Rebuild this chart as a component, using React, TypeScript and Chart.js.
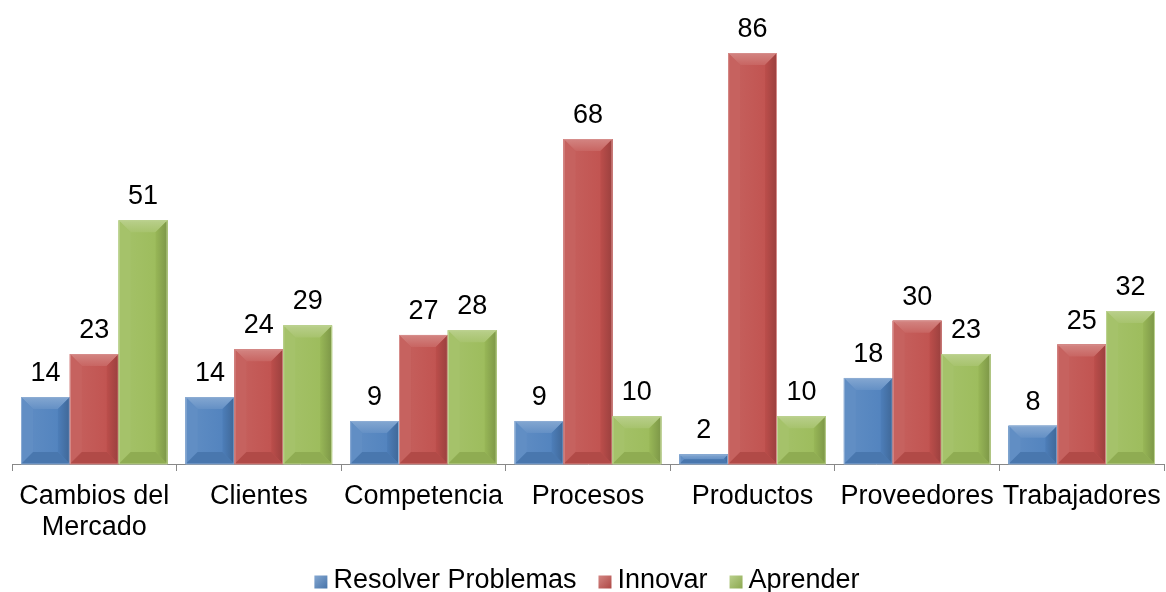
import React, { useEffect, useRef } from "react";
import { Chart, registerables } from "chart.js";

Chart.register(...registerables);

const categories = [["Cambios del", "Mercado"], "Clientes", "Competencia", "Procesos", "Productos", "Proveedores", "Trabajadores"];
const seriesNames = ["Resolver Problemas", "Innovar", "Aprender"];
const resolverValues = [14, 14, 9, 9, 2, 18, 8];
const innovarValues = [23, 24, 27, 68, 86, 30, 25];
const aprenderValues = [51, 29, 28, 10, 10, 23, 32];
const seriesColors = ["#4F81BD", "#C0504D", "#9BBB59"];

const FONT_FAMILY = "'Liberation Sans', Arial, sans-serif";
const FONT_SIZE = 27;

function shade(hex: string, amt: number) {
  const n = parseInt(hex.slice(1), 16);
  let r = (n >> 16) & 255, g = (n >> 8) & 255, b = n & 255;
  if (amt >= 0) {
    r = r + (255 - r) * amt; g = g + (255 - g) * amt; b = b + (255 - b) * amt;
  } else {
    r = r * (1 + amt); g = g * (1 + amt); b = b * (1 + amt);
  }
  return `rgb(${Math.round(r)},${Math.round(g)},${Math.round(b)})`;
}

const bevelPlugin = {
  id: "bevel",
  afterDatasetsDraw(chart: any) {
    const ctx = chart.ctx;
    chart.data.datasets.forEach((ds: any, di: number) => {
      const meta = chart.getDatasetMeta(di);
      const base = seriesColors[di];
      meta.data.forEach((bar: any, i: number) => {
        const { x, y, width, base: b0 } = bar.getProps(["x", "y", "width", "base"], true);
        const l = x - width / 2, r = x + width / 2, t = y, bt = b0;
        const h = bt - t;
        const bv = Math.min(12, h / 2, width / 2);
        ctx.save();
        const g = ctx.createLinearGradient(l, 0, r, 0);
        g.addColorStop(0, shade(base, 0.1));
        g.addColorStop(1, shade(base, 0.0));
        ctx.fillStyle = g;
        ctx.fillRect(l, t, width, h);
        ctx.beginPath();
        ctx.moveTo(l, t); ctx.lineTo(r, t); ctx.lineTo(r - bv, t + bv); ctx.lineTo(l + bv, t + bv); ctx.closePath();
        const gt = ctx.createLinearGradient(0, t, 0, t + bv);
        gt.addColorStop(0, shade(base, 0.3));
        gt.addColorStop(1, shade(base, 0.12));
        ctx.fillStyle = gt; ctx.fill();
        ctx.beginPath();
        ctx.moveTo(l, t); ctx.lineTo(l + bv, t + bv); ctx.lineTo(l + bv, bt - bv); ctx.lineTo(l, bt); ctx.closePath();
        ctx.fillStyle = shade(base, 0.1); ctx.fill();
        ctx.beginPath();
        ctx.moveTo(r, t); ctx.lineTo(r - bv, t + bv); ctx.lineTo(r - bv, bt - bv); ctx.lineTo(r, bt); ctx.closePath();
        const gr = ctx.createLinearGradient(r - bv, 0, r, 0);
        gr.addColorStop(0, shade(base, -0.02));
        gr.addColorStop(1, shade(base, -0.2));
        ctx.fillStyle = gr; ctx.fill();
        ctx.beginPath();
        ctx.moveTo(l, bt); ctx.lineTo(l + bv, bt - bv); ctx.lineTo(r - bv, bt - bv); ctx.lineTo(r, bt); ctx.closePath();
        ctx.fillStyle = shade(base, -0.08); ctx.fill();
        ctx.strokeStyle = shade(base, 0.35);
        ctx.lineWidth = 1;
        ctx.strokeRect(l + 0.5, t + 0.5, width - 1, h - 0.5);
        ctx.fillStyle = "#000";
        ctx.font = `${FONT_SIZE}px ${FONT_FAMILY}`;
        ctx.textAlign = "center";
        ctx.textBaseline = "alphabetic";
        ctx.fillText(String(ds.data[i]), x, t - 16);
        ctx.restore();
      });
    });
  },
};

const legendPlugin = {
  id: "customLegend",
  afterDraw(chart: any) {
    const ctx = chart.ctx;
    const box = 13, gapBoxText = 6, gapItems = 22;
    ctx.save();
    ctx.font = `${FONT_SIZE}px ${FONT_FAMILY}`;
    const widths = seriesNames.map((n) => box + gapBoxText + ctx.measureText(n).width);
    const total = widths.reduce((a, b) => a + b, 0) + gapItems * (seriesNames.length - 1);
    let x = (chart.width - total) / 2 + 4;
    const cy = chart.height - 11;
    ctx.textBaseline = "middle";
    ctx.textAlign = "left";
    seriesNames.forEach((n, i) => {
      const c = seriesColors[i];
      const bx = x, by = cy - box / 2 + 1;
      const g = ctx.createLinearGradient(bx, by, bx + box, by + box);
      g.addColorStop(0, shade(c, 0.3));
      g.addColorStop(1, shade(c, -0.1));
      ctx.fillStyle = g;
      ctx.fillRect(bx, by, box, box);
      ctx.fillStyle = "#000";
      ctx.fillText(n, x + box + gapBoxText, cy);
      x += widths[i] + gapItems;
    });
    ctx.restore();
  },
};

export default function App() {
  const ref = useRef<HTMLCanvasElement>(null);
  useEffect(() => {
    if (!ref.current) return;
    const font = { family: FONT_FAMILY, size: FONT_SIZE, lineHeight: 31 / FONT_SIZE };
    const chart = new Chart(ref.current, {
      type: "bar",
      data: {
        labels: categories as any,
        datasets: [resolverValues, innovarValues, aprenderValues].map((d, i) => ({
          label: seriesNames[i],
          data: d,
          backgroundColor: seriesColors[i],
          borderWidth: 0,
          categoryPercentage: 0.89,
          barPercentage: 1,
        })),
      },
      options: {
        animation: false,
        responsive: false,
        maintainAspectRatio: false,
        layout: { padding: { left: 12, right: 2, top: 10, bottom: 39 } },
        plugins: {
          legend: { display: false },
          tooltip: { enabled: false },
        },
        scales: {
          x: {
            grid: { offset: true, drawOnChartArea: false, tickLength: 7, color: "#888" },
            border: { color: "#888" },
            ticks: { font, color: "#000", padding: 10, maxRotation: 0, autoSkip: false },
            afterFit: (scale: any) => {
              scale.paddingLeft = 0;
              scale.paddingRight = 0;
            },
          },
          y: {
            display: false,
            min: 0,
            max: 95,
          },
        },
      },
      plugins: [bevelPlugin, legendPlugin],
    });
    return () => chart.destroy();
  }, []);
  return (
    <div style={{ position: "fixed", left: 0, top: 0, width: 1166, height: 592, background: "#fff" }}>
      <canvas ref={ref} width={1166} height={592} style={{ display: "block" }} />
    </div>
  );
}
